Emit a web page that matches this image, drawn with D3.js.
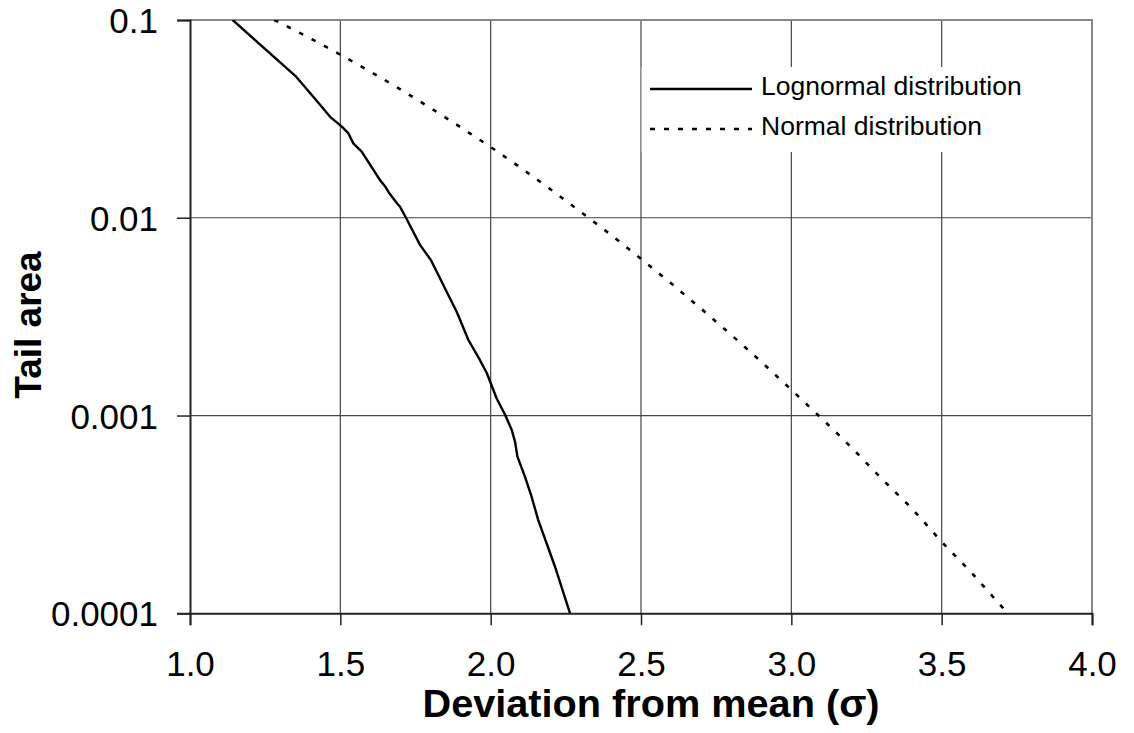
<!DOCTYPE html>
<html>
<head>
<meta charset="utf-8">
<script src="https://cdn.jsdelivr.net/npm/d3@7"></script>
<style>
  html, body { margin: 0; padding: 0; background: #ffffff; }
  svg { display: block; }
</style>
</head>
<body>
<svg id="chart" width="1134" height="733"></svg>
<script>
// Tail area versus deviation from the mean, for a lognormal and a normal distribution.

// Lognormal distribution: deviation (σ) and tail area
const lognormalX = [1.142, 1.353, 1.410, 1.466, 1.505, 1.527, 1.543, 1.571, 1.632, 1.649,
                    1.663, 1.689, 1.698, 1.721, 1.765, 1.801, 1.826, 1.859, 1.887, 1.926,
                    1.964, 1.987, 2.020, 2.048, 2.070, 2.081, 2.089, 2.114, 2.136, 2.158,
                    2.186, 2.214, 2.264];
const lognormalY = [0.1, 0.0517, 0.0409, 0.0324, 0.0289, 0.0267, 0.0238, 0.0216, 0.0155, 0.0144,
                    0.0133, 0.0118, 0.0114, 0.00983, 0.00729, 0.00612, 0.00514, 0.00407, 0.00335, 0.00241,
                    0.00191, 0.00164, 0.00122, 0.00101, 0.000846, 0.000738, 0.00062, 0.000491, 0.000389, 0.000297,
                    0.000226, 0.000172, 0.0001];

// Normal distribution: deviation (σ) and tail area
const normalX = [1.28, 1.3, 1.4, 1.5, 1.6, 1.7, 1.8, 1.9, 2.0, 2.1, 2.2, 2.3, 2.4, 2.5,
                 2.6, 2.7, 2.8, 2.9, 3.0, 3.1, 3.2, 3.3, 3.4, 3.5, 3.6, 3.7, 3.72];
const normalY = [0.1, 0.0968, 0.0808, 0.0668, 0.0548, 0.0446, 0.0359, 0.0287, 0.0228, 0.0179,
                 0.0139, 0.0107, 0.0082, 0.0062, 0.00466, 0.00347, 0.00256, 0.00187, 0.00135, 0.00097,
                 0.00069, 0.00048, 0.00034, 0.00023, 0.00016, 0.000108, 0.0001];

// Axis ticks
const xTickValues = [1.0, 1.5, 2.0, 2.5, 3.0, 3.5, 4.0];
const xTickLabels = ["1.0", "1.5", "2.0", "2.5", "3.0", "3.5", "4.0"];
const yTickValues = [0.1, 0.01, 0.001, 0.0001];
const yTickLabels = ["0.1", "0.01", "0.001", "0.0001"];

// Series names
const seriesNames = ["Lognormal distribution", "Normal distribution"];
const xTitle = "Deviation from mean (σ)";
const yTitle = "Tail area";

const FONT = "'Liberation Sans', Arial, Helvetica, sans-serif";

const svg = d3.select("#chart");

const plot = { left: 190, right: 1092, top: 20, bottom: 613.3 };

const x = d3.scaleLinear().domain([1.0, 4.0]).range([plot.left, plot.right]);
const y = d3.scaleLog().domain([0.0001, 0.1]).range([plot.bottom, plot.top]);

// Grid lines
const grid = svg.append("g").attr("class", "grid");
grid.selectAll("line.vgrid")
  .data(xTickValues.slice(1, -1))
  .join("line")
  .attr("class", "vgrid")
  .attr("x1", d => x(d)).attr("x2", d => x(d))
  .attr("y1", plot.top).attr("y2", plot.bottom)
  .attr("stroke", "#444").attr("stroke-width", 1.2);
grid.selectAll("line.hgrid")
  .data(yTickValues.slice(1, -1))
  .join("line")
  .attr("class", "hgrid")
  .attr("x1", plot.left).attr("x2", plot.right)
  .attr("y1", d => y(d)).attr("y2", d => y(d))
  .attr("stroke", "#444").attr("stroke-width", 1.2);

// Top and right frame
svg.append("path")
  .attr("d", `M${plot.left},${plot.top}H${plot.right}V${plot.bottom}`)
  .attr("fill", "none")
  .attr("stroke", "#888")
  .attr("stroke-width", 2);

// Clip region for the curves
svg.append("clipPath").attr("id", "plot-clip")
  .append("rect")
  .attr("x", plot.left).attr("y", plot.top)
  .attr("width", plot.right - plot.left).attr("height", plot.bottom - plot.top);

// Legend background (drawn over the grid)
const legendX = x(2.5) + 0.6;
svg.append("rect")
  .attr("x", legendX).attr("y", 67)
  .attr("width", 395).attr("height", 85)
  .attr("fill", "#ffffff");

// Curves
const line = d3.line().x(d => x(d[0])).y(d => y(d[1]));
const curves = svg.append("g").attr("clip-path", "url(#plot-clip)");

curves.append("path")
  .datum(d3.zip(normalX, normalY))
  .attr("d", line)
  .attr("fill", "none")
  .attr("stroke", "#000")
  .attr("stroke-width", 2.6)
  .attr("stroke-dasharray", "4.5,9.5");

curves.append("path")
  .datum(d3.zip(lognormalX, lognormalY))
  .attr("d", line)
  .attr("fill", "none")
  .attr("stroke", "#000")
  .attr("stroke-width", 2.4)
  .attr("stroke-linejoin", "round");

// Axes
const xAxis = d3.axisBottom(x)
  .tickValues(xTickValues)
  .tickFormat((d, i) => xTickLabels[i])
  .tickSize(12)
  .tickPadding(16);
const yAxis = d3.axisLeft(y)
  .tickValues(yTickValues)
  .tickFormat((d, i) => yTickLabels[i])
  .tickSize(13)
  .tickPadding(16);

const gx = svg.append("g").attr("transform", `translate(0,${plot.bottom})`).call(xAxis);
const gy = svg.append("g").attr("transform", `translate(${plot.left},0)`).call(yAxis);

[gx, gy].forEach(g => {
  g.select(".domain").attr("stroke", "#222").attr("stroke-width", 2);
  g.selectAll(".tick line").attr("stroke", "#222").attr("stroke-width", 1.5);
  g.selectAll(".tick text")
    .attr("fill", "#000")
    .style("font-family", FONT)
    .style("font-size", "35px");
});
gx.selectAll(".tick text").attr("dy", "0.71em").attr("y", 38);
gy.selectAll(".tick text").attr("dy", "0.36em").attr("x", -32);

// Axis titles
svg.append("text")
  .attr("x", 651).attr("y", 717)
  .attr("text-anchor", "middle")
  .style("font-family", FONT)
  .style("font-size", "38px")
  .style("font-weight", "bold")
  .attr("textLength", 457)
  .attr("lengthAdjust", "spacingAndGlyphs")
  .text(xTitle);

svg.append("text")
  .attr("transform", "translate(41,325) rotate(-90)")
  .attr("text-anchor", "middle")
  .style("font-family", FONT)
  .style("font-size", "37px")
  .style("font-weight", "bold")
  .text(yTitle);

// Legend entries
const legend = svg.append("g");
const legendRows = [
  { name: seriesNames[0], dash: null, y: 89 },
  { name: seriesNames[1], dash: "5,9", y: 129 }
];
legendRows.forEach(r => {
  legend.append("line")
    .attr("x1", 650).attr("x2", 752)
    .attr("y1", r.y).attr("y2", r.y)
    .attr("stroke", "#000")
    .attr("stroke-width", 2.4)
    .attr("stroke-dasharray", r.dash);
  legend.append("text")
    .attr("x", 761).attr("y", r.y + 6)
    .style("font-family", FONT)
    .style("font-size", "26.5px")
    .attr("fill", "#000")
    .text(r.name);
});
</script>
</body>
</html>
